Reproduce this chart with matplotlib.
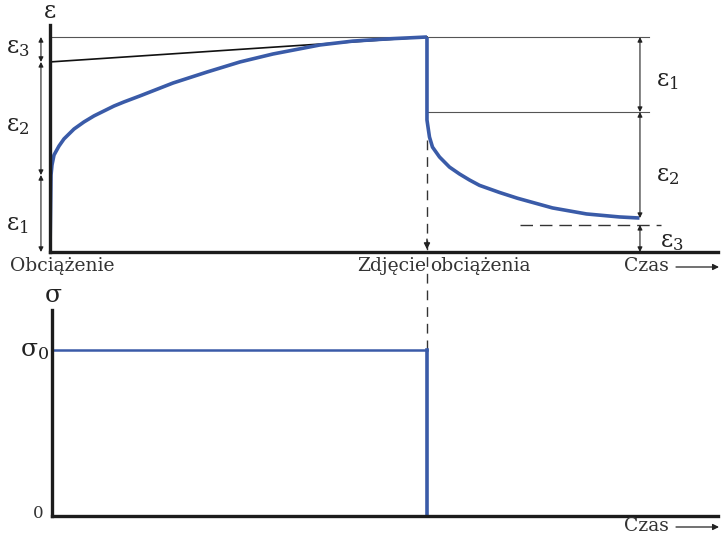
import matplotlib
matplotlib.use("Agg")
import matplotlib.pyplot as plt

plt.rcParams["font.family"] = ["DejaVu Serif"]
plt.rcParams["mathtext.fontset"] = "dejavuserif"

# Odkształcenie przy pełzaniu (czas w jedn. umownych, zdjęcie obciążenia przy t = 10)
T_UNLOAD = 10.0
creep_t = [0.0, 0.027, 0.053, 0.106, 0.239, 0.371, 0.637, 0.902, 1.167, 1.432,
           1.698, 1.963, 2.387, 3.263, 4.164, 5.04, 5.915, 7.162, 8.037, 8.939, 10.0]
creep_eps = [0.0, 0.358, 0.405, 0.451, 0.493, 0.526, 0.572, 0.605, 0.633, 0.656,
             0.679, 0.698, 0.726, 0.786, 0.837, 0.884, 0.921, 0.963, 0.981, 0.991, 1.0]

recov_t = [10.0, 10.0, 10.0, 10.066, 10.146, 10.332, 10.597, 10.862, 11.127, 11.393,
           11.923, 12.401, 13.329, 14.231, 15.106, 15.637]
recov_eps = [1.0, 0.651, 0.614, 0.535, 0.488, 0.442, 0.395, 0.363, 0.335, 0.31,
             0.277, 0.25, 0.205, 0.177, 0.163, 0.158]

# poziomy odkształceń
EPS_MAX = 1.0
EPS1_LOAD = 0.358       # odkształcenie sprężyste przy obciążeniu
EPS_STEADY0 = 0.884     # początek asymptoty (pełzanie ustalone)
EPS_AFTER_UNLOAD = 0.651
EPS_END = 0.158
EPS_PERM = 0.126

# naprężenie
stress_t = [0.0, 10.0, 10.0]
stress_val = [1.0, 1.0, 0.0]

BLUE = "#3a5ba8"
AX_COLOR = "#1c1c1c"
W, H = 721, 536

fig = plt.figure(figsize=(W / 100, H / 100), dpi=100)


def px_axes(left, top, right, bottom):
    return fig.add_axes([left / W, 1 - bottom / H, (right - left) / W, (bottom - top) / H])


def ftext(x, y, s, **kw):
    fig.text(x / W, 1 - y / H, s, **kw)


def style_axes(ax):
    for side in ("top", "right"):
        ax.spines[side].set_visible(False)
    for side in ("left", "bottom"):
        ax.spines[side].set_linewidth(2.4)
        ax.spines[side].set_color(AX_COLOR)
        ax.spines[side].set_zorder(5)
    ax.set_xticks([])
    ax.set_yticks([])
    ax.patch.set_alpha(0)


# ---- górny wykres: odkształcenie ----
ax1 = px_axes(50, 25, 718, 252)
style_axes(ax1)
ax1.set_xlim(0, 17.72)
ax1.set_ylim(0, 1.0558)

curve = dict(color=BLUE, lw=2.6, zorder=3, solid_joinstyle="round", solid_capstyle="butt")
ax1.plot(creep_t, creep_eps, **curve)
ax1.plot(recov_t, recov_eps, **curve)

thin = dict(color="#555555", lw=0.8, zorder=2)
ax1.plot([0, 15.9], [EPS_MAX, EPS_MAX], **thin)
ax1.plot([T_UNLOAD, 15.9], [EPS_AFTER_UNLOAD, EPS_AFTER_UNLOAD], **thin)
ax1.plot([0, T_UNLOAD], [EPS_STEADY0, EPS_MAX], color="#111111", lw=1.2, zorder=2)
ax1.plot([12.47, 16.2], [EPS_PERM, EPS_PERM], color="#333333", lw=1.0,
         dashes=(9, 5), zorder=2, clip_on=False)

# przerywana pionowa linia w chwili zdjęcia obciążenia (przechodzi do dolnego wykresu)
ax1.plot([T_UNLOAD, T_UNLOAD], [0.52, -0.456], color="#333333", lw=1.0,
         dashes=(7, 5), zorder=1, clip_on=False)
ax1.annotate("", xy=(T_UNLOAD, 0.012), xytext=(T_UNLOAD, 0.06),
             arrowprops=dict(arrowstyle="-|>", color="#222222", lw=1.0,
                             mutation_scale=9, shrinkA=0, shrinkB=0))


def dim_arrow(ax, t, y0, y1):
    ax.annotate("", xy=(t, y0), xytext=(t, y1), annotation_clip=False,
                arrowprops=dict(arrowstyle="<|-|>", color="#222222", lw=0.8,
                                mutation_scale=7, shrinkA=0, shrinkB=0))


T_LEFT = -0.24
dim_arrow(ax1, T_LEFT, 0.0, EPS1_LOAD)
dim_arrow(ax1, T_LEFT, EPS1_LOAD, EPS_STEADY0)
dim_arrow(ax1, T_LEFT, EPS_STEADY0, EPS_MAX)

T_RIGHT = 15.65
dim_arrow(ax1, T_RIGHT, EPS_AFTER_UNLOAD, EPS_MAX)
dim_arrow(ax1, T_RIGHT, EPS_END, EPS_AFTER_UNLOAD)
dim_arrow(ax1, T_RIGHT, 0.0, EPS_PERM)

# ---- dolny wykres: naprężenie ----
ax2 = px_axes(52, 310, 718, 516)
style_axes(ax2)
ax2.set_xlim(0, 17.74)
ax2.set_ylim(0, 1.241)
ax2.plot(stress_t[:2], stress_val[:2], color=BLUE, lw=1.8, zorder=3)
ax2.plot(stress_t[1:], stress_val[1:], color=BLUE, lw=2.6, zorder=3, clip_on=False)

# ---- opisy ----
lab = dict(fontsize=13.5, color="#333333", va="center")
eps_kw = dict(fontsize=17, color="#222222", va="center")

ftext(50, 12, "ε", ha="center", **eps_kw)
ftext(6, 47, "ε$_3$", ha="left", **eps_kw)
ftext(6, 125, "ε$_2$", ha="left", **eps_kw)
ftext(6, 224, "ε$_1$", ha="left", **eps_kw)
ftext(656, 80, "ε$_1$", ha="left", **eps_kw)
ftext(656, 175, "ε$_2$", ha="left", **eps_kw)
ftext(660, 241, "ε$_3$", ha="left", **eps_kw)

ftext(10, 266, "Obciążenie", ha="left", **lab)
ftext(426, 266, "Zdjęcie", ha="right", **lab)
ftext(430, 266, "obciążenia", ha="left", **lab)


def czas(y):
    ftext(624, y, "Czas", ha="left", **lab)
    fig.add_artist(matplotlib.patches.FancyArrowPatch(
        (676 / W, 1 - (y + 1) / H), (719 / W, 1 - (y + 1) / H),
        transform=fig.transFigure, arrowstyle="-|>", mutation_scale=9,
        color="#222222", lw=0.9, shrinkA=0, shrinkB=0))


czas(266)
czas(526)

ftext(53, 295, "σ", ha="center", fontsize=18, color="#222222", va="center")
ftext(49, 350, "σ$_0$", ha="right", fontsize=18, color="#222222", va="center")
ftext(38, 514, "0", ha="center", fontsize=12, color="#333333", va="center")

fig.savefig("out.png", dpi=100)
